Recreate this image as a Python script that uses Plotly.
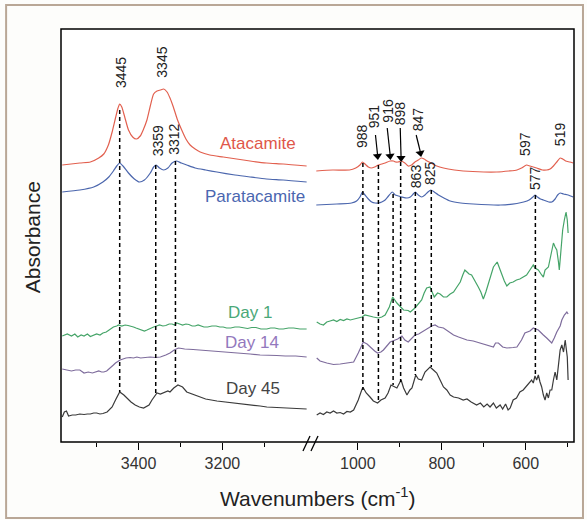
import math
import plotly.graph_objects as go

FONT = "Arial, 'Liberation Sans', sans-serif"

# ---------------- data: (wavenumber, absorbance offset) ----------------
ATA_L = [(3582,2.77),(3540,2.79),(3515,2.80),(3495,2.84),(3483,2.88),(3472,2.97),(3463,3.10),(3455,3.24),
         (3449,3.34),(3445,3.38),(3440,3.35),(3433,3.25),(3424,3.12),(3414,3.05),(3405,3.03),(3396,3.06),
         (3388,3.13),(3380,3.22),(3372,3.36),(3364,3.48),(3356,3.51),(3348,3.52),(3340,3.53),(3332,3.50),
         (3325,3.44),(3317,3.35),(3307,3.22),(3297,3.12),(3287,3.03),(3277,2.97),(3265,2.93),(3253,2.90),
         (3230,2.87),(3198,2.85),(3166,2.83),(3134,2.81),(3095,2.79),(3055,2.78),(2999,2.76)]
ATA_R = [(1099,2.71),(1060,2.72),(1020,2.72),(1005,2.74),(995,2.77),(989,2.80),(983,2.78),(975,2.75),
         (968,2.74),(960,2.75),(951,2.77),(943,2.78),(935,2.79),(923,2.81),(915,2.81),(910,2.80),(904,2.80),
         (897,2.81),(888,2.79),(880,2.76),(872,2.77),(864,2.80),(856,2.82),(849,2.84),(842,2.83),(835,2.81),
         (826,2.79),(812,2.76),(796,2.74),(770,2.72),(749,2.71),(700,2.70),(669,2.70),(640,2.71),(621,2.72),
         (610,2.74),(598,2.77),(590,2.76),(582,2.75),(574,2.74),(560,2.72),(550,2.72),(542,2.73),(534,2.76),
         (526,2.80),(518,2.84),(512,2.83),(505,2.81),(495,2.80),(487,2.79)]
PARA_L = [(3582,2.50),(3540,2.52),(3507,2.55),(3485,2.60),(3471,2.65),(3460,2.71),(3452,2.76),(3445,2.79),
          (3437,2.76),(3424,2.69),(3410,2.63),(3398,2.60),(3386,2.62),(3372,2.69),(3364,2.75),(3358,2.77),
          (3350,2.74),(3340,2.72),(3330,2.74),(3320,2.79),(3310,2.81),(3298,2.79),(3285,2.77),(3265,2.74),
          (3240,2.72),(3213,2.70),(3170,2.67),(3134,2.65),(3095,2.63),(3055,2.62),(2999,2.60)]
PARA_R = [(1099,2.37),(1050,2.38),(1015,2.39),(1003,2.41),(995,2.45),(989,2.50),(983,2.47),(975,2.43),
          (967,2.40),(959,2.39),(951,2.39),(943,2.40),(935,2.42),(927,2.46),(918,2.50),(911,2.47),(903,2.46),
          (895,2.45),(883,2.44),(875,2.45),(868,2.48),(863,2.50),(856,2.47),(848,2.45),(840,2.47),(833,2.50),
          (826,2.52),(818,2.50),(808,2.47),(795,2.44),(780,2.41),(755,2.39),(725,2.38),(660,2.37),(621,2.385),
          (605,2.40),(592,2.42),(583,2.45),(578,2.47),(572,2.45),(565,2.43),(558,2.42),(545,2.40),(538,2.40),
          (530,2.43),(524,2.47),(518,2.49),(510,2.48),(499,2.47),(487,2.45)]
DAY1_L = [(3582,1.06),(3570,1.08),(3560,1.06),(3552,1.08),(3545,1.05),(3537,1.07),(3530,1.06),(3522,1.08),
          (3515,1.055),(3507,1.07),(3500,1.08),(3492,1.07),(3485,1.09),(3477,1.10),(3470,1.12),(3460,1.15),
          (3452,1.16),(3448,1.17),(3440,1.16),(3432,1.17),(3425,1.165),(3418,1.16),(3412,1.15),(3406,1.14),
          (3400,1.13),(3393,1.12),(3386,1.11),(3380,1.12),(3375,1.13),(3368,1.15),(3364,1.15),(3357,1.16),
          (3350,1.17),(3342,1.16),(3335,1.165),(3327,1.18),(3320,1.18),(3314,1.17),(3309,1.19),(3302,1.18),
          (3295,1.17),(3287,1.18),(3280,1.175),(3272,1.16),(3265,1.16),(3258,1.17),(3253,1.16),(3244,1.15),
          (3235,1.15),(3225,1.16),(3215,1.16),(3206,1.15),(3198,1.15),(3190,1.14),(3180,1.14),(3170,1.15),
          (3160,1.15),(3150,1.14),(3140,1.135),(3130,1.145),(3120,1.145),(3108,1.13),(3094,1.13),(3085,1.14),
          (3075,1.14),(3065,1.13),(3055,1.13),(3042,1.14),(3030,1.14),(3015,1.13),(2999,1.13)]
DAY1_R = [(1098,1.20),(1090,1.18),(1082,1.17),(1074,1.20),(1066,1.21),(1058,1.22),(1050,1.205),(1042,1.225),
          (1034,1.215),(1026,1.23),(1018,1.22),(1010,1.23),(1000,1.24),(990,1.25),(983,1.27),(975,1.26),
          (963,1.25),(951,1.24),(943,1.25),(935,1.27),(925,1.35),(917,1.45),(910,1.40),(907,1.39),(898,1.35),
          (891,1.32),(880,1.315),(875,1.30),(864,1.34),(855,1.39),(848,1.42),(842,1.49),(836,1.54),(828,1.55),
          (818,1.45),(810,1.49),(804,1.48),(796,1.45),(788,1.45),(780,1.48),(772,1.50),(764,1.55),(756,1.60),
          (750,1.67),(745,1.72),(740,1.70),(735,1.68),(729,1.67),(720,1.61),(713,1.55),(707,1.50),(701,1.43),
          (695,1.50),(689,1.59),(683,1.67),(677,1.75),(668,1.80),(661,1.72),(657,1.67),(651,1.61),(645,1.56),
          (638,1.59),(630,1.60),(622,1.62),(614,1.63),(606,1.65),(598,1.67),(590,1.72),(582,1.77),(578,1.74),
          (570,1.72),(562,1.67),(558,1.65),(554,1.72),(546,1.75),(540,1.87),(534,1.99),(530,1.95),(526,1.92),
          (522,1.80),(520,1.72),(516,1.92),(512,2.12),(508,2.22),(504,2.30),(501,2.22),(499,2.09)]
DAY14_L = [(3582,0.73),(3570,0.72),(3560,0.71),(3550,0.72),(3540,0.72),(3530,0.69),(3520,0.70),(3510,0.69),
           (3502,0.70),(3495,0.71),(3488,0.70),(3483,0.70),(3476,0.71),(3470,0.73),(3460,0.77),(3455,0.79),
           (3444,0.82),(3437,0.83),(3430,0.84),(3420,0.845),(3412,0.84),(3404,0.85),(3395,0.84),(3384,0.845),
           (3372,0.85),(3360,0.845),(3348,0.85),(3335,0.87),(3325,0.89),(3315,0.92),(3305,0.94),(3297,0.935),
           (3290,0.93),(3270,0.925),(3253,0.92),(3235,0.91),(3220,0.905),(3200,0.90),(3174,0.89),(3150,0.885),
           (3134,0.88),(3110,0.87),(3094,0.87),(3070,0.865),(3050,0.86),(3025,0.86),(2999,0.85)]
DAY14_R = [(1098,0.84),(1090,0.81),(1074,0.79),(1058,0.775),(1042,0.78),(1026,0.79),(1010,0.80),(999,0.89),
           (987,1.00),(978,0.98),(971,0.95),(960,0.91),(953,0.89),(945,0.90),(939,0.92),(930,0.96),(923,1.00),
           (911,1.02),(905,1.03),(895,1.06),(888,1.02),(880,1.00),(870,1.04),(864,1.07),(855,1.08),(848,1.10),
           (840,1.12),(832,1.14),(824,1.16),(816,1.17),(808,1.15),(796,1.14),(785,1.11),(772,1.07),(760,1.05),
           (740,1.02),(725,1.01),(709,0.99),(695,0.98),(677,0.95),(672,0.99),(665,0.99),(655,0.95),(645,0.94),
           (630,0.945),(621,0.95),(610,1.02),(602,1.09),(590,1.11),(582,1.14),(570,1.12),(566,1.10),(558,1.07),
           (550,1.04),(538,0.99),(532,1.04),(526,1.10),(518,1.16),(514,1.22),(508,1.27),(502,1.30),(499,1.28)]
DAY45_L = [(3582,0.25),(3577,0.30),(3572,0.31),(3567,0.26),(3558,0.27),(3550,0.27),(3540,0.28),(3530,0.275),
           (3522,0.28),(3515,0.28),(3507,0.29),(3500,0.29),(3492,0.28),(3485,0.285),(3475,0.30),(3463,0.35),
           (3455,0.42),(3445,0.50),(3435,0.47),(3428,0.44),(3418,0.40),(3408,0.37),(3398,0.35),(3388,0.34),
           (3375,0.37),(3368,0.42),(3356,0.49),(3348,0.48),(3340,0.49),(3330,0.51),(3325,0.50),(3316,0.54),
           (3306,0.57),(3295,0.55),(3285,0.50),(3272,0.48),(3261,0.46),(3240,0.43),(3213,0.41),(3190,0.40),
           (3170,0.39),(3150,0.38),(3134,0.37),(3110,0.36),(3094,0.35),(3070,0.345),(3055,0.34),(3030,0.335),
           (2999,0.33)]
DAY45_R = [(1098,0.27),(1090,0.29),(1082,0.275),(1074,0.30),(1066,0.29),(1058,0.31),(1050,0.29),(1042,0.295),
           (1034,0.28),(1026,0.305),(1018,0.30),(1010,0.32),(999,0.42),(990,0.53),(987,0.54),(980,0.49),
           (971,0.45),(963,0.41),(953,0.39),(945,0.42),(935,0.44),(928,0.49),(921,0.57),(913,0.55),(907,0.54),
           (897,0.62),(891,0.54),(883,0.47),(876,0.52),(871,0.54),(862,0.67),(856,0.63),(848,0.62),(840,0.70),
           (828,0.75),(820,0.72),(812,0.69),(804,0.62),(796,0.55),(788,0.52),(780,0.47),(772,0.45),(760,0.44),
           (749,0.42),(740,0.43),(730,0.40),(717,0.37),(708,0.39),(700,0.35),(692,0.38),(685,0.35),(677,0.39),
           (670,0.34),(661,0.37),(655,0.33),(648,0.38),(642,0.32),(637,0.34),(630,0.42),(622,0.44),(614,0.50),
           (606,0.52),(598,0.56),(592,0.60),(586,0.62),(582,0.59),(578,0.66),(574,0.62),(570,0.67),(566,0.60),
           (562,0.55),(558,0.47),(554,0.42),(550,0.49),(546,0.44),(542,0.52),(538,0.52),(534,0.62),(530,0.70),
           (526,0.62),(522,0.80),(518,0.92),(514,0.97),(510,0.90),(506,1.02),(503,0.92),(501,0.85),(499,0.62)]

SERIES_NAMES = ["Atacamite", "Paratacamite", "Day 1", "Day 14", "Day 45"]
LABEL_WN = [3115, 3122, 3134, 3129, 3127]
LABEL_ABS = [2.99, 2.46, 1.30, 1.00, 0.54]

# dashed guide lines: (wavenumber, top, bottom)
DASH_L = [(3445, 3.32, 0.50), (3359, 2.77, 0.49), (3312, 2.81, 0.57)]
DASH_R = [(988, 2.79, 0.52), (951, 2.77, 0.42), (916, 2.48, 0.57), (898, 2.80, 0.60),
          (863, 2.50, 0.67), (825, 2.52, 0.75), (577, 2.47, 0.67)]

# peak labels: (text, wavenumber, absorbance at lower end of text)
PEAKS_L = [("3445", 3443, 3.52), ("3345", 3346, 3.62), ("3359", 3354, 2.84), ("3312", 3317, 2.85)]
PEAKS_R = [("988", 990, 2.92), ("951", 961, 3.12), ("916", 929, 3.17), ("898", 899, 3.15),
           ("847", 856, 3.09), ("597", 602, 2.84), ("519", 518, 2.94), ("863", 861, 2.52),
           ("825", 828, 2.55), ("577", 578, 2.50)]
# arrows: (tail wn, tail abs, head wn, head abs)
ARROWS = [(958, 3.07, 953, 2.83), (930, 3.14, 923, 2.83), (899, 3.14, 897, 2.81), (861, 3.07, 851, 2.86)]

LEFT_MAJOR = [3400, 3200]
LEFT_MINOR = [3500, 3300, 3100]
RIGHT_MAJOR = [1000, 800, 600]
RIGHT_MINOR = [900, 700, 500]

# ---------------- styling ----------------
LINE_COLORS = ["#e2604f", "#4b66ad", "#45a468", "#7e6c9c", "#3a3a3a"]
TEXT_COLORS = ["#e0574a", "#4a66b0", "#4aa878", "#9378bd", "#444444"]
SHAPES = ["spline", "spline", "linear", "linear", "linear"]

fig = go.Figure()

segments = [(ATA_L, ATA_R), (PARA_L, PARA_R), (DAY1_L, DAY1_R), (DAY14_L, DAY14_R), (DAY45_L, DAY45_R)]
for i, (segL, segR) in enumerate(segments):
    for seg, ax in ((segL, "x"), (segR, "x2")):
        fig.add_trace(go.Scatter(
            x=[p[0] for p in seg], y=[p[1] for p in seg], xaxis=ax, yaxis="y",
            mode="lines", line=dict(color=LINE_COLORS[i], width=1.2, shape=SHAPES[i], smoothing=0.6),
            hoverinfo="skip", showlegend=False))

for dashes, ax in ((DASH_L, "x"), (DASH_R, "x2")):
    for wn, top, bot in dashes:
        fig.add_trace(go.Scatter(x=[wn, wn], y=[top, bot], xaxis=ax, yaxis="y", mode="lines",
                                 line=dict(color="black", width=1.5, dash="4px,3px"),
                                 hoverinfo="skip", showlegend=False))

# arrows drawn as a shaft plus a rotated triangle head
PX_PER_WN, PX_PER_ABS = 0.42, 100.0
for twn, tab, hwn, hab in ARROWS:
    fig.add_trace(go.Scatter(x=[twn, hwn], y=[tab, hab + 0.04], xaxis="x2", yaxis="y", mode="lines",
                             line=dict(color="black", width=1.2), hoverinfo="skip", showlegend=False))
    dx = (twn - hwn) * PX_PER_WN
    dy = (tab - hab) * PX_PER_ABS
    ang = -math.degrees(math.atan2(dx, dy))
    fig.add_trace(go.Scatter(x=[hwn], y=[hab + 0.03], xaxis="x2", yaxis="y", mode="markers",
                             marker=dict(symbol="triangle-down", size=8, color="black", angle=ang),
                             hoverinfo="skip", showlegend=False))

annotations = []
for name, wn, ab, col in zip(SERIES_NAMES, LABEL_WN, LABEL_ABS, TEXT_COLORS):
    annotations.append(dict(x=wn, y=ab, xref="x", yref="y", text=name, showarrow=False,
                            font=dict(family=FONT, size=17, color=col), xanchor="center", yanchor="middle"))
for peaks, ax in ((PEAKS_L, "x"), (PEAKS_R, "x2")):
    for txt, wn, ab in peaks:
        annotations.append(dict(x=wn, y=ab, xref=ax, yref="y", text=txt, showarrow=False, textangle=-90,
                                font=dict(family=FONT, size=14, color="#222"),
                                xanchor="center", yanchor="bottom"))
annotations.append(dict(x=0.501, y=-0.133, xref="paper", yref="paper", showarrow=False,
                        text="Wavenumbers (cm<sup>-1</sup>)", font=dict(family=FONT, size=21, color="#222"),
                        xanchor="center", yanchor="middle"))
annotations.append(dict(x=-0.0565, y=0.496, xref="paper", yref="paper", showarrow=False, textangle=-90,
                        text="Absorbance", font=dict(family=FONT, size=21, color="#222"),
                        xanchor="center", yanchor="middle"))

shapes = [
    dict(type="rect", xref="paper", yref="paper", x0=0, x1=1, y0=0, y1=1,
         line=dict(color="black", width=1.5), fillcolor="rgba(0,0,0,0)"),
    dict(type="line", xref="paper", yref="paper", x0=0.4717, y0=-0.0218, x1=0.4854, y1=0.0145,
         line=dict(color="black", width=1.3)),
    dict(type="line", xref="paper", yref="paper", x0=0.4873, y0=-0.0218, x1=0.501, y1=0.0145,
         line=dict(color="black", width=1.3)),
    dict(type="rect", xref="paper", yref="paper", x0=-0.107, x1=1.0175, y0=-0.184, y1=1.058,
         line=dict(color="#b9a796", width=2), fillcolor="rgba(0,0,0,0)", layer="below"),
]

def xaxis_style(domain, rng, major, minor):
    return dict(domain=domain, range=rng, tickvals=major, ticks="outside", ticklen=7, tickwidth=1.2,
                tickcolor="black", showgrid=False, zeroline=False, showline=False,
                tickfont=dict(family=FONT, size=16, color="#333"), anchor="y",
                minor=dict(tickvals=minor, ticks="outside", ticklen=4, tickwidth=1.2, tickcolor="black",
                           showgrid=False))

fig.update_layout(
    width=587, height=520,
    margin=dict(l=61, r=13, t=29, b=78),
    paper_bgcolor="#fdfdfb", plot_bgcolor="white",
    xaxis=xaxis_style([0, 0.487], [3585, 2989], LEFT_MAJOR, LEFT_MINOR),
    xaxis2=xaxis_style([0.487, 1], [1112, 485], RIGHT_MAJOR, RIGHT_MINOR),
    yaxis=dict(range=[0, 4.13], showticklabels=False, ticks="", showgrid=False, zeroline=False, showline=False),
    annotations=annotations, shapes=shapes, showlegend=False,
)

fig.write_html("out.html", config={"displayModeBar": False},
               post_script="document.body.style.margin='0';")
